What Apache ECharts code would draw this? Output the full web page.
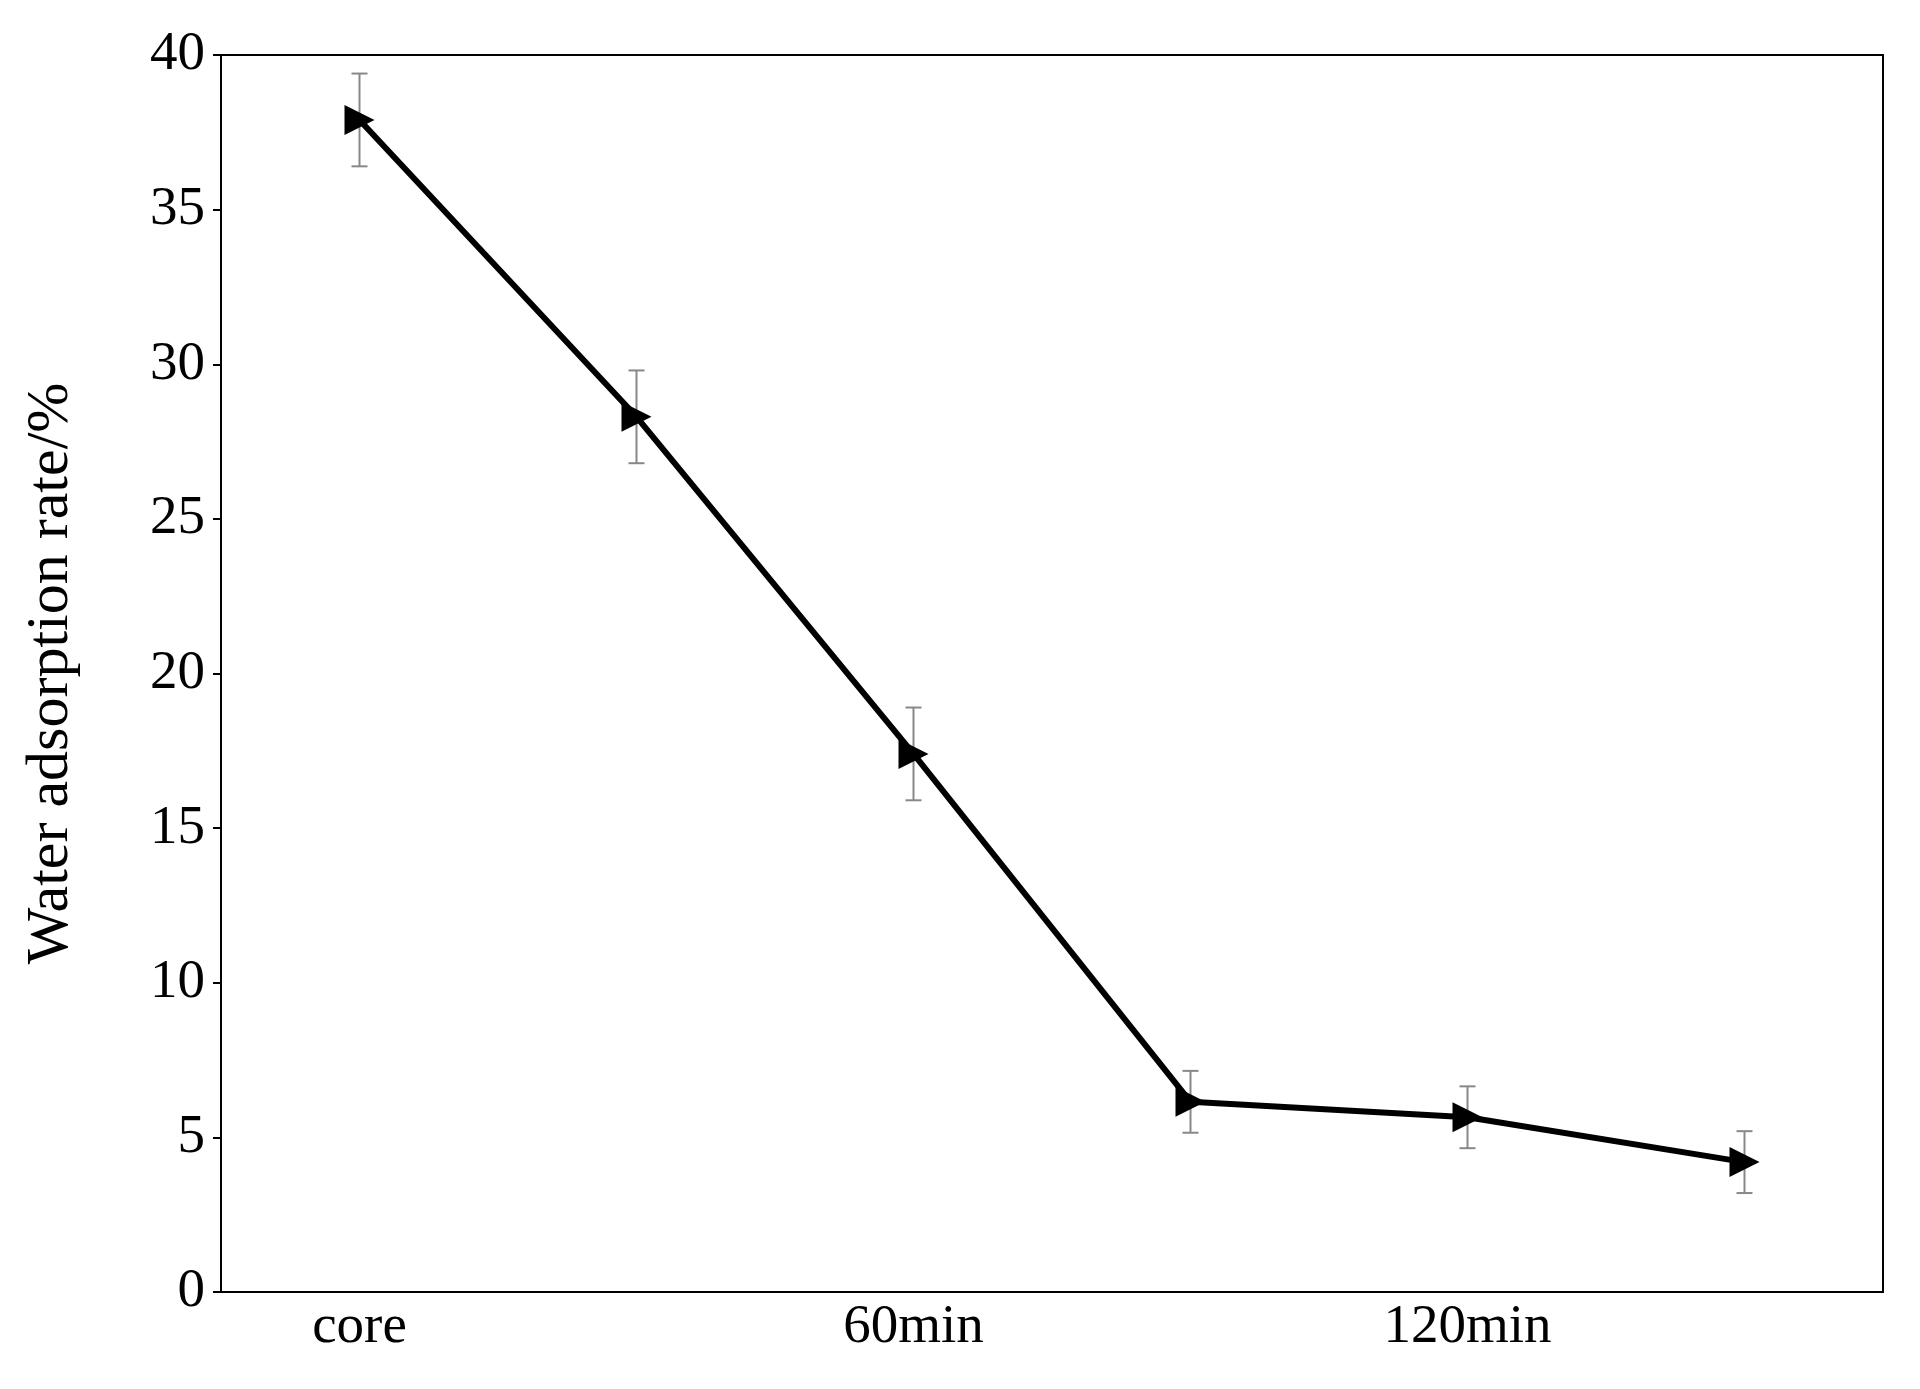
<!DOCTYPE html>
<html>
<head>
<meta charset="utf-8">
<script src="https://cdn.jsdelivr.net/npm/echarts@6/dist/echarts.min.js"></script>
<style>html,body{margin:0;padding:0;background:#fff}#chart{width:1920px;height:1389px}</style>
</head>
<body>
<div id="chart"></div>
<script>
var categories = ['core', '30min', '60min', '90min', '120min', 'final state'];
var rates = [37.9, 28.3, 17.4, 6.15, 5.65, 4.2];
var errors = [1.5, 1.5, 1.5, 1.0, 1.0, 1.0];

var chart = echarts.init(document.getElementById('chart'));
var font = 'Liberation Serif';

// error bar data: [index, low, high]
var errData = [];
for (let i = 0; i < rates.length; i++) {
	errData.push([i, rates[i] - errors[i], rates[i] + errors[i]]);
}

chart.setOption({
	animation: false,
	grid: { left: 221, right: 37, top: 55, bottom: 97 },
	xAxis: {
		type: 'category',
		data: categories,
		boundaryGap: true,
		axisLine: { lineStyle: { color: '#000', width: 2 } },
		axisTick: { inside: true, alignWithLabel: true, length: 10, lineStyle: { color: '#000', width: 2 } },
		axisLabel: { color: '#000', fontFamily: font, fontSize: 55, margin: 8 }
	},
	yAxis: {
		type: 'value',
		min: 0, max: 40, interval: 5,
		name: 'Water adsorption rate/%',
		nameLocation: 'middle',
		nameGap: 140,
		nameTextStyle: { color: '#000', fontFamily: font, fontSize: 60 },
		splitLine: { show: false },
		axisLine: { show: true, lineStyle: { color: '#000', width: 2 } },
		axisTick: { show: true, inside: false, length: 8, lineStyle: { color: '#000', width: 2 } },
		axisLabel: { color: '#000', fontFamily: font, fontSize: 55, margin: 16 }
	},
	series: [
		{
			type: 'custom',
			data: errData,
			z: 1,
			renderItem: function (params, api) {
				var top = api.coord([api.value(0), api.value(2)]);
				var bot = api.coord([api.value(0), api.value(1)]);
				var w = 8;
				var st = { stroke: '#888', lineWidth: 2 };
				return {
					type: 'group',
					children: [
						{ type: 'line', shape: { x1: top[0], y1: top[1], x2: bot[0], y2: bot[1] }, style: st },
						{ type: 'line', shape: { x1: top[0] - w, y1: top[1], x2: top[0] + w, y2: top[1] }, style: st },
						{ type: 'line', shape: { x1: bot[0] - w, y1: bot[1], x2: bot[0] + w, y2: bot[1] }, style: st }
					]
				};
			}
		},
		{
			type: 'line',
			data: rates,
			z: 3,
			symbol: 'triangle',
			symbolRotate: -90,
			symbolSize: 30,
			itemStyle: { color: '#000' },
			lineStyle: { color: '#000', width: 6 }
		}
	]
});
// 外框上边和右边
chart.setOption({
	graphic: [{
		type: 'rect',
		shape: { x: 221, y: 55, width: 1920 - 221 - 37, height: 1389 - 55 - 97 },
		style: { fill: 'none', stroke: '#000', lineWidth: 2 },
		z: 0
	}]
});
</script>
</body>
</html>
